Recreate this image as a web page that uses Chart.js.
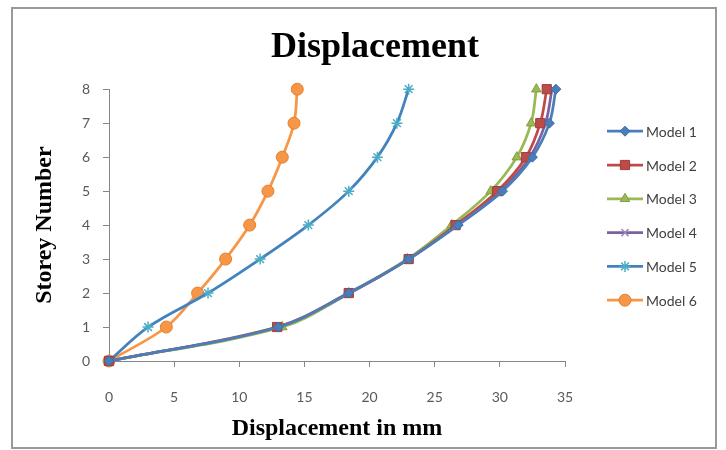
<!DOCTYPE html>
<html>
<head>
<meta charset="utf-8">
<script src="https://cdn.jsdelivr.net/npm/chart.js@4/dist/chart.umd.min.js"></script>
<style>
  html, body { margin: 0; padding: 0; background: #fff; }
  #wrap { width: 726px; height: 450px; position: relative; }
</style>
</head>
<body>
<div id="wrap"><canvas id="c" width="726" height="450"></canvas></div>
<script>
// ---- Data ----
const storeys = [0, 1, 2, 3, 4, 5, 6, 7, 8];
const seriesNames = ['Model 1', 'Model 2', 'Model 3', 'Model 4', 'Model 5', 'Model 6'];
const model1 = [0, 13.0, 18.4, 23.0, 26.8, 30.2, 32.5, 33.8, 34.3];
const model2 = [0, 12.9, 18.4, 23.0, 26.6, 29.8, 32.0, 33.1, 33.6];
const model3 = [0, 13.3, 18.4, 22.9, 26.3, 29.3, 31.3, 32.4, 32.8];
const model4 = [0, 13.1, 18.5, 23.0, 26.7, 30.0, 32.3, 33.5, 34.0];
const model5 = [0, 3.0, 7.6, 11.6, 15.3, 18.4, 20.6, 22.1, 23.0];
const model6 = [0, 4.4, 6.8, 8.95, 10.8, 12.2, 13.3, 14.2, 14.45];
const xTicks = [0, 5, 10, 15, 20, 25, 30, 35];
const yTicks = [0, 1, 2, 3, 4, 5, 6, 7, 8];

const allSeries = [model1, model2, model3, model4, model5, model6];
const styles = [
  { line: '#4A7EBB', fill: '#4A7EBB', stroke: '#3B6CA6', shape: 'rectRot', r: 5, bw: 1 },
  { line: '#BE4B48', fill: '#BE4B48', stroke: '#A03C39', shape: 'rect', r: 6.5, bw: 1 },
  { line: '#98B954', fill: '#98B954', stroke: '#809E43', shape: 'triangle', r: 5.5, bw: 1 },
  { line: '#7D60A0', fill: '#9D85C0', stroke: '#9D85C0', shape: 'crossRot', r: 5, bw: 1.5 },
  { line: '#4283BE', fill: '#4BACC6', stroke: '#4BACC6', shape: 'star', r: 5.5, bw: 1.5 },
  { line: '#F79646', fill: '#F79646', stroke: '#E5812F', shape: 'circle', r: 6, bw: 1 }
];

const datasets = allSeries.map((vals, i) => ({
  label: seriesNames[i],
  data: vals.map((v, k) => ({ x: v, y: storeys[k] })),
  borderColor: styles[i].line,
  backgroundColor: styles[i].fill,
  borderWidth: 2.75,
  tension: 0.35,
  pointStyle: styles[i].shape,
  pointRadius: styles[i].r,
  pointHoverRadius: styles[i].r,
  pointBackgroundColor: styles[i].fill,
  pointBorderColor: styles[i].stroke,
  pointBorderWidth: styles[i].bw,
  clip: false,
  fill: false
}));

const axisGrey = '#868686';
const tickFont = { family: 'Lato', size: 14 };

const frame = {
  id: 'frame',
  beforeDraw(chart) {
    const ctx = chart.ctx;
    ctx.save();
    ctx.fillStyle = '#fff';
    ctx.fillRect(0, 0, chart.width, chart.height);
    ctx.strokeStyle = '#9A9A9A';
    ctx.lineWidth = 2;
    ctx.strokeRect(12, 8, 704, 440);
    ctx.restore();
  }
};

const excelLegend = {
  id: 'excelLegend',
  afterDraw(chart) {
    const ctx = chart.ctx;
    const ca = chart.chartArea;
    const x0 = ca.right + 42, len = 36, y0 = ca.top + 42, pitch = 33.8;
    chart.data.datasets.forEach((ds, i) => {
      const y = y0 + i * pitch;
      ctx.save();
      ctx.strokeStyle = ds.borderColor;
      ctx.lineWidth = ds.borderWidth;
      ctx.beginPath();
      ctx.moveTo(x0, y);
      ctx.lineTo(x0 + len, y);
      ctx.stroke();
      ctx.fillStyle = ds.pointBackgroundColor;
      ctx.strokeStyle = ds.pointBorderColor;
      ctx.lineWidth = ds.pointBorderWidth;
      if (Chart.helpers && Chart.helpers.drawPoint) {
        Chart.helpers.drawPoint(ctx, { pointStyle: ds.pointStyle, radius: ds.pointRadius, rotation: 0, borderWidth: ds.pointBorderWidth }, x0 + len / 2, y);
      } else {
        ctx.beginPath(); ctx.arc(x0 + len / 2, y, ds.pointRadius, 0, Math.PI * 2); ctx.fill(); ctx.stroke();
      }
      ctx.fillStyle = '#404040';
      ctx.font = '14px Lato';
      ctx.textBaseline = 'middle';
      ctx.textAlign = 'left';
      ctx.fillText(ds.label, x0 + len + 3, y + 1);
      ctx.restore();
    });
  }
};

new Chart(document.getElementById('c'), {
  type: 'line',
  data: { datasets },
  options: {
    responsive: false,
    animation: false,
    events: [],
    layout: { padding: { top: 8, left: 24, right: 0, bottom: 0 } },
    plugins: {
      legend: { display: false },
      tooltip: { enabled: false },
      title: {
        display: true,
        text: 'Displacement',
        color: '#000',
        font: { family: 'Liberation Serif', size: 36, weight: 'bold' },
        padding: { top: 18, bottom: 20 }
      }
    },
    scales: {
      x: {
        type: 'linear',
        min: 0, max: 35,
        afterFit: s => { s.height = 89; },
        afterBuildTicks: s => { s.ticks = xTicks.map(v => ({ value: v })); },
        ticks: { color: '#595959', font: tickFont, padding: 22, maxRotation: 0 },
        grid: { display: true, drawOnChartArea: false, drawTicks: true, tickLength: 6, color: axisGrey },
        border: { display: true, color: axisGrey, width: 1 },
        title: {
          display: true,
          text: 'Displacement in mm',
          color: '#000',
          font: { family: 'Liberation Serif', size: 24, weight: 'bold' },
          padding: { top: 0, bottom: 7 }
        }
      },
      y: {
        type: 'linear',
        min: 0, max: 8,
        afterFit: s => { s.width = 85; },
        afterBuildTicks: s => { s.ticks = yTicks.map(v => ({ value: v })); },
        ticks: { color: '#595959', font: tickFont, padding: 13 },
        grid: { display: true, drawOnChartArea: false, drawTicks: true, tickLength: 6, color: axisGrey },
        border: { display: true, color: axisGrey, width: 1 },
        title: {
          display: true,
          text: 'Storey Number',
          color: '#000',
          font: { family: 'Liberation Serif', size: 24, weight: 'bold' },
          padding: { top: 6, bottom: 0 }
        }
      },
      legendSpace: {
        type: 'linear',
        position: 'right',
        display: true,
        afterFit: s => { s.width = 161; },
        ticks: { display: false },
        grid: { display: false },
        border: { display: false }
      }
    }
  },
  plugins: [frame, excelLegend]
});
</script>
</body>
</html>
